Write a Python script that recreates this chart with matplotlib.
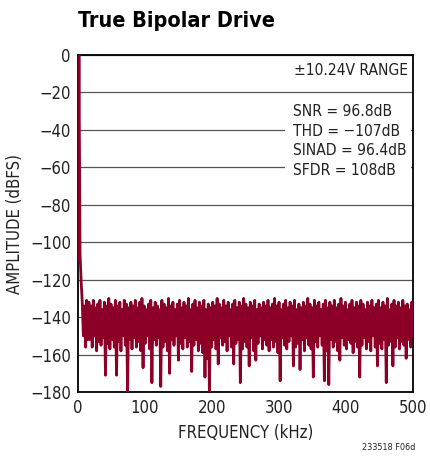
import numpy as np
from matplotlib import pyplot as plt
from matplotlib.patches import Rectangle

plt.rcParams['font.family'] = ['DejaVu Sans']
plt.rcParams['font.stretch'] = 'condensed'

# FFT amplitude (dBFS), evenly spaced bins from 0 to 500 kHz
amplitude = [
    -110, 0, -106, -121,
    -132, -150, -134, -156, -131, -152, -132, -152, -134, -156, -131, -150, -135, -158, -133, -153, -131, -155, -136, -151, -132, -171, -134, -154, -130, -157,
    -133, -152, -135, -156, -131, -171, -134, -153, -132, -158, -136, -150, -131, -155, -133, -180, -135, -152, -132, -157,
    -134, -151, -131, -156, -135, -153, -132, -158, -130, -167, -134, -154, -136, -150, -133, -157, -131, -175, -135, -152,
    -132, -155, -134, -151, -136, -177, -131, -156, -133, -153, -135, -158, -130, -170, -134, -152, -132, -155, -136, -150,
    -133, -163, -131, -154, -135, -157, -132, -151, -134, -156, -130, -153, -136, -169, -133, -155, -131, -152, -135, -158,
    -132, -154, -134, -159, -131, -172, -136, -162, -133, -180, -135, -156, -132, -152, -134, -157, -130, -165, -133, -151,
    -135, -155, -131, -153, -134, -158, -132, -150, -136, -156, -133, -165, -131, -154, -135, -152, -132, -175, -134, -157,
    -130, -153, -133, -156, -135, -166, -132, -151, -134, -158, -131, -163, -136, -154, -133, -150, -135, -157, -132, -152,
    -134, -155, -131, -158, -135, -152, -133, -156, -130, -153, -134, -159, -132, -174, -136, -151, -133, -155, -131, -157,
    -135, -153, -132, -150, -134, -166, -131, -156, -136, -154, -133, -168, -135, -152, -132, -158, -134, -151, -130, -155,
    -133, -157, -135, -172, -131, -153, -134, -156, -132, -150, -136, -155, -133, -174, -131, -158, -135, -176, -132, -152,
    -134, -156, -131, -153, -135, -158, -133, -163, -130, -151, -134, -155, -132, -157, -136, -152, -133, -154, -131, -159,
    -135, -153, -132, -156, -134, -172, -131, -155, -133, -151, -136, -157, -132, -153, -134, -158, -131, -150, -135, -156,
    -133, -166, -131, -154, -135, -157, -132, -152, -134, -175, -130, -155, -136, -153, -133, -166, -131, -156, -134, -151,
    -132, -157, -135, -153, -131, -155, -134, -162, -133, -152, -136, -156, -132, -150,
]
freq = np.linspace(0, 500, len(amplitude))

y_ticks = [0, -20, -40, -60, -80, -100, -120, -140, -160, -180]
x_ticks = [0, 100, 200, 300, 400, 500]
stats = ['SNR = 96.8dB', 'THD = \u2212107dB', 'SINAD = 96.4dB', 'SFDR = 108dB']

fig = plt.figure(figsize=(4.3, 4.58), dpi=100)
ax = fig.add_axes([0.181, 0.144, 0.779, 0.736])

ax.plot(freq, amplitude, color='#8c0028', lw=2.0, zorder=3)

ax.set_xlim(0, 500)
ax.set_ylim(-180, 0)
ax.set_xticks(x_ticks)
ax.set_yticks(y_ticks)
ax.set_yticklabels([str(v).replace('-', '\u2212') for v in y_ticks])
ax.tick_params(length=0, labelsize=12, pad=5, colors='#222222')
ax.yaxis.grid(True, color='#555555', lw=0.9)
ax.set_axisbelow(True)
for s in ax.spines.values():
    s.set_linewidth(1.3)

ax.set_xlabel('FREQUENCY (kHz)', fontsize=12, color='#222222', labelpad=5)
ax.set_ylabel('AMPLITUDE (dBFS)', fontsize=12, color='#222222', labelpad=4)

# white panel behind the stats, hides the grid lines
ax.add_patch(Rectangle((0.618, 0.600), 0.376, 0.273, transform=ax.transAxes,
                       facecolor='white', edgecolor='none', zorder=2))
ax.text(0.985, 0.975, '\u00b110.24V RANGE', transform=ax.transAxes, ha='right', va='top',
        fontsize=11.2, color='#222222', zorder=4)
ax.text(0.642, 0.855, '\n'.join(stats), transform=ax.transAxes, ha='left', va='top',
        fontsize=11.2, color='#222222', linespacing=1.4, zorder=4)

fig.text(0.181, 0.955, 'True Bipolar Drive', fontsize=15.5, fontweight='bold', ha='left', va='center')
fig.text(0.965, 0.013, '233518 F06d', fontsize=6.5, ha='right', va='bottom', color='#222222')

fig.savefig('out.png', dpi=100)
